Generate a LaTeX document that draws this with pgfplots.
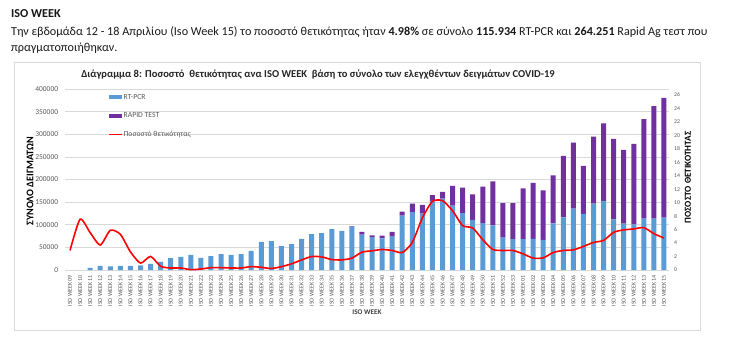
\documentclass[border=0pt]{standalone}
\usepackage{fontspec}
\setmainfont{Carlito}
\usepackage{pgfplots}
\pgfplotsset{compat=1.18}
\usepackage{pgfplotstable}
\definecolor{pcr}{HTML}{5B9BD5}
\definecolor{rap}{HTML}{7030A0}
\definecolor{tickc}{HTML}{595959}
\definecolor{gridc}{HTML}{D9D9D9}
\definecolor{framec}{HTML}{D9D9D9}

\pgfplotstableread{
idx pcr rapid pos
0 0 0 2.9
1 0 0 7.55
2 4500 0 5.55
3 9200 0 3.7
4 8100 0 5.9
5 9200 0 5.3
6 9200 0 2.7
7 10000 0 1.02
8 13700 0 2.02
9 18000 0 0.55
10 26200 0 0.3
11 29100 0 0.3
12 33500 0 0.05
13 26900 0 0.15
14 30600 0 0.35
15 35000 0 0.35
16 33500 0 0.3
17 35000 0 0.3
18 42300 0 0.5
19 62200 0 0.4
20 63700 0 0.22
21 52700 0 0.5
22 57400 0 0.92
23 68800 0 1.5
24 79500 0 2.0
25 81700 0 1.95
26 90500 0 1.55
27 86500 0 1.5
28 95700 1300 1.77
29 78200 6200 2.65
30 72700 3600 2.85
31 70000 6000 3.05
32 73800 10300 2.9
33 120300 8800 2.6
34 127800 19000 4.1
35 124800 19000 7.75
36 153000 12700 10.2
37 158000 14400 10.3
38 142000 44000 8.8
39 125800 56300 6.6
40 111000 56000 6.25
41 103600 80500 4.5
42 98500 97500 3.05
43 71500 76300 2.9
44 68200 79600 2.9
45 68200 112300 2.4
46 69000 123500 1.77
47 66700 109300 1.8
48 102800 106200 2.6
49 116400 135700 2.9
50 135900 145600 3.0
51 124000 106000 3.5
52 146800 147700 4.1
53 152700 171300 4.4
54 112100 177900 5.6
55 102600 163000 5.96
56 101000 178000 6.1
57 113800 219700 6.3
58 113800 248200 5.4
59 115934 264251 4.75
}\data

\begin{document}
\begin{tikzpicture}[x=1bp,y=1bp]
\useasboundingbox (0,0) rectangle (731,359);
\fill[white] (0,0) rectangle (731,359);
% header text
\node[anchor=base west, inner sep=0pt, font=\fontsize{12.2}{14}\selectfont\bfseries, text=black!90] at (11,342) {ISO WEEK};
\node[anchor=base west, inner sep=0pt, font=\fontsize{12.2}{14}\selectfont, text=black!90] at (11,324) {Την εβδομάδα 12 - 18 Απριλίου (Iso Week 15) το ποσοστό θετικότητας ήταν \textbf{4.98\%} σε σύνολο \textbf{115.934} RT-PCR και \textbf{264.251} Rapid Ag τεστ που};
\node[anchor=base west, inner sep=0pt, font=\fontsize{12.2}{14}\selectfont, text=black!90] at (11,308) {πραγματοποιήθηκαν.};
% chart frame
\draw[framec, line width=0.75bp] (14.5,29) rectangle (700.5,296.3);
\node[font=\fontsize{10.6}{12}\selectfont\bfseries, text=black!85] at (318,284) {Διάγραμμα 8: Ποσοστό\ \ θετικότητας ανα ISO WEEK\ \ βάση το σύνολο των ελεγχθέντων δειγμάτων COVID-19};

\begin{axis}[
  at={(65bp,89bp)}, anchor=south west, scale only axis,
  width=604bp, height=181bp,
  xmin=-0.5, xmax=59.5, ymin=0, ymax=400000,
  ybar stacked, bar width=5bp,
  axis line style={draw=none},
  major tick length=0pt,
  ymajorgrids, grid style={gridc, line width=0.75bp},
  ytick={0,50000,...,400000},
  scaled y ticks=false,
  /pgf/number format/assume math mode=true,
  yticklabel={\pgfmathprintnumber[fixed,precision=0,1000 sep={}]{\tick}},
  yticklabel style={font=\fontsize{7.5}{8}\selectfont, text=tickc, inner sep=0pt, anchor=east},
  yticklabel shift=6.7bp,
  xtick={0,...,59},
  xticklabels={ISO WEEK 09,ISO WEEK 10,ISO WEEK 11,ISO WEEK 12,ISO WEEK 13,ISO WEEK 14,ISO WEEK 15,ISO WEEK 16,ISO WEEK 17,ISO WEEK 18,ISO WEEK 19,ISO WEEK 20,ISO WEEK 21,ISO WEEK 22,ISO WEEK 23,ISO WEEK 24,ISO WEEK 25,ISO WEEK 26,ISO WEEK 27,ISO WEEK 28,ISO WEEK 29,ISO WEEK 30,ISO WEEK 31,ISO WEEK 32,ISO WEEK 33,ISO WEEK 34,ISO WEEK 35,ISO WEEK 36,ISO WEEK 37,ISO WEEK 38,ISO WEEK 39,ISO WEEK 40,ISO WEEK 41,ISO WEEK 42,ISO WEEK 43,ISO WEEK 44,ISO WEEK 45,ISO WEEK 46,ISO WEEK 47,ISO WEEK 48,ISO WEEK 49,ISO WEEK 50,ISO WEEK 51,ISO WEEK 52,ISO WEEK 53,ISO WEEK 01,ISO WEEK 02,ISO WEEK 03,ISO WEEK 04,ISO WEEK 05,ISO WEEK 06,ISO WEEK 07,ISO WEEK 08,ISO WEEK 09,ISO WEEK 10,ISO WEEK 11,ISO WEEK 12,ISO WEEK 13,ISO WEEK 14,ISO WEEK 15},
  xticklabel style={rotate=90, anchor=east, inner sep=0pt, font=\fontsize{6}{6.5}\selectfont, text=tickc},
  xticklabel shift=5bp,
  legend cell align=left,
  legend style={at={(0.0712,0.978)}, anchor=north west, draw=none, fill=none, inner sep=0pt,
    font=\fontsize{7.7}{8.5}\selectfont, text=tickc, row sep=10bp,
    nodes={inner sep=1bp, text height=5bp, text depth=1.5bp}},
]
\addplot[fill=pcr, draw=none, legend image code/.code={\fill[pcr] (0bp,-2bp) rectangle (13bp,2bp);}] table[x=idx, y=pcr] {\data};
\addlegendentry{RT-PCR}
\addplot[fill=rap, draw=none, legend image code/.code={\fill[rap] (0bp,-2bp) rectangle (13bp,2bp);}] table[x=idx, y=rapid] {\data};
\addlegendentry{RAPID TEST}
\addlegendimage{legend image code/.code={\draw[red, line width=1.5bp] (0bp,0bp) -- (13bp,0bp);}}
\addlegendentry{Ποσοστό θετικότητας}
\end{axis}

\begin{axis}[
  at={(65bp,89bp)}, anchor=south west, scale only axis,
  width=604bp, height=181bp,
  xmin=-0.5, xmax=59.5, ymin=0, ymax=26.9,
  axis x line=none, axis y line*=right,
  axis line style={draw=none},
  major tick length=0pt,
  ytick={0,2,...,26},
  /pgf/number format/assume math mode=true,
  yticklabel style={font=\fontsize{5.8}{6}\selectfont, text=tickc, inner sep=0pt, anchor=west},
  yticklabel shift=5bp,
]
\addplot[red, line width=1.6bp, smooth, tension=0.4, no markers] table[x=idx, y=pos] {\data};
\end{axis}

% axis titles
\node[rotate=90, font=\fontsize{10.2}{11}\selectfont\bfseries] at (30,178) {ΣΥΝΟΛΟ ΔΕΙΓΜΑΤΩΝ};
\node[rotate=90, font=\fontsize{9.2}{10}\selectfont\bfseries] at (688,181.5) {ΠΟΣΟΣΤΟ ΘΕΤΙΚΟΤΗΤΑΣ};
\node[font=\fontsize{7.2}{8}\selectfont\bfseries, text=black!75] at (367,47) {ISO WEEK};
\end{tikzpicture}
\end{document}
